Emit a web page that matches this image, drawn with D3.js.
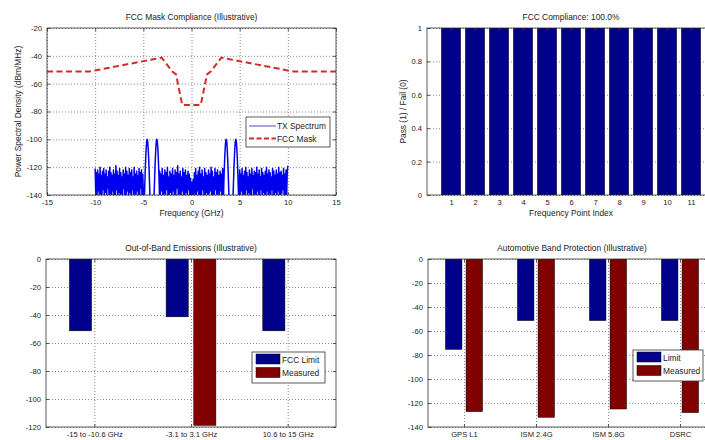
<!DOCTYPE html>
<html>
<head>
<meta charset="utf-8">
<script src="https://cdn.jsdelivr.net/npm/d3@7"></script>
<style>
body { margin: 0; background: #fff; }
svg { font-family: "Liberation Sans", Arial, sans-serif; }
.grid line { stroke: #8a8a8a; stroke-dasharray: 1,2; }
.grid path { display: none; }
.ax text { fill: #222; font-size: 7.6px; }
.lbl { fill: #222; font-size: 8.4px; }
</style>
</head>
<body>
<svg id="fig" width="705" height="440"></svg>
<script>
// ---- data ----
// FCC mask (symmetric, illustrative)
var maskFreq  = [-15, -10.6, -3.1, -1.99, -1.61, -0.96, 0.96, 1.61, 1.99, 3.1, 10.6, 15];
var maskLevel = [-51.3, -51.3, -41.3, -51.3, -53.3, -75.3, -75.3, -53.3, -51.3, -41.3, -51.3, -51.3];

// TX spectrum noise floor, three stretches (GHz spans and levels in dBm/MHz)
var noiseSpans = [[-10, -5.0], [-3.3, 3.3], [5.0, 10]];
var noiseLeft = [-121,-140,-124,-143,-122,-137,-125,-145,-120,-139,-126,-142,-123,-136,-121,-144,-125,-138,-122,-141,
  -127,-135,-123,-146,-120,-139,-124,-142,-126,-137,-122,-144,-125,-140,-119,-136,-123,-145,-126,-138,
  -121,-143,-124,-139,-127,-141,-122,-135,-125,-146,-120,-140,-123,-137,-126,-144,-121,-138,-124,-142,
  -122,-136,-127,-145,-120,-139,-125,-141,-123,-137,-126,-143,-121,-140,-124,-135,-122,-146,-125,-138];
var noiseMid = [-123,-141,-125,-137,-121,-144,-126,-139,-122,-142,-124,-136,-120,-145,-127,-140,-123,-138,-125,-143,
  -121,-137,-126,-146,-122,-140,-124,-135,-119,-143,-125,-139,-123,-144,-127,-137,-121,-141,-124,-146,
  -122,-138,-126,-142,-123,-136,-125,-145,-128,-141,-131,-146,-129,-143,-124,-139,-121,-144,-126,-137,
  -123,-142,-120,-140,-125,-145,-122,-136,-127,-141,-121,-143,-124,-138,-126,-146,-122,-139,-125,-137,
  -120,-144,-123,-140,-127,-142,-121,-136,-124,-145,-122,-139,-126,-141,-123,-137,-125,-143,-121,-140];
var noiseRight = [-122,-142,-125,-137,-121,-145,-126,-139,-123,-141,-120,-136,-124,-144,-127,-138,-122,-143,-125,-140,
  -121,-135,-126,-146,-123,-139,-124,-142,-120,-137,-125,-144,-122,-140,-127,-136,-121,-145,-124,-138,
  -126,-141,-123,-143,-120,-137,-125,-146,-122,-139,-124,-142,-127,-136,-121,-144,-123,-140,-126,-138,
  -122,-145,-125,-137,-120,-141,-124,-143,-123,-139,-126,-136,-121,-144,-125,-140,-122,-142,-124,-119];
// pulse peaks between the noise stretches [GHz, dBm/MHz]
var peakPoints = [[-4.95,-145],[-4.9,-143],[-4.85,-133],[-4.8,-122],[-4.75,-113],[-4.7,-106],[-4.65,-101.5],[-4.6,-100],
  [-4.55,-101.5],[-4.5,-106],[-4.45,-113],[-4.4,-122],[-4.35,-133],[-4.3,-143],[-4.1,-145],[-3.9,-143],[-3.85,-133],
  [-3.8,-122],[-3.75,-113],[-3.7,-106],[-3.65,-101.5],[-3.6,-100],[-3.55,-101.5],[-3.5,-106],[-3.45,-113],[-3.4,-122],
  [-3.35,-133],[-3.32,-143],
  [3.32,-143],[3.35,-133],[3.4,-122],[3.45,-113],[3.5,-106],[3.55,-101.5],[3.6,-100],[3.65,-101.5],[3.7,-106],
  [3.75,-113],[3.8,-122],[3.85,-133],[3.9,-143],[4.1,-145],[4.3,-143],[4.35,-133],[4.4,-122],[4.45,-113],[4.5,-106],
  [4.55,-101.5],[4.6,-100],[4.65,-101.5],[4.7,-106],[4.75,-113],[4.8,-122],[4.85,-133],[4.9,-143],[4.95,-145]];

var maskXTicks = [-15, -10, -5, 0, 5, 10, 15];
var maskYTicks = [-140, -120, -100, -80, -60, -40, -20];

// pass / fail
var passIndex = [1, 2, 3, 4, 5, 6, 7, 8, 9, 10, 11];
var passValue = [1, 1, 1, 1, 1, 1, 1, 1, 1, 1, 1];
var passYTicks = [0, 0.2, 0.4, 0.6, 0.8, 1];

// out-of-band
var oobBands = ["-15 to -10.6 GHz", "-3.1 to 3.1 GHz", "10.6 to 15 GHz"];
var oobLimit = [-51.3, -41.3, -51.3];
var oobMeasured = [null, -118.8, null];
var oobYTicks = [-120, -100, -80, -60, -40, -20, 0];

// automotive bands
var autoBands = ["GPS L1", "ISM 2.4G", "ISM 5.8G", "DSRC"];
var autoLimit = [-75.3, -51.3, -51.3, -51.3];
var autoMeasured = [-127.2, -131.9, -125, -128];
var autoYTicks = [-140, -120, -100, -80, -60, -40, -20, 0];

// ---- drawing ----
var navy = "#00008b", maroon = "#800000";
var svg = d3.select("#fig");

function makePanel(name, p, x, y, xTicks, yTicks) {
  var g = svg.append("g").attr("transform", "translate(" + p.x + "," + p.y + ")");
  g.append("clipPath").attr("id", "clip-" + name).append("rect").attr("width", p.w).attr("height", p.h);
  g.append("g").attr("class", "grid").call(d3.axisBottom(x).tickValues(xTicks).tickSize(p.h).tickFormat(""));
  g.append("g").attr("class", "grid").call(d3.axisLeft(y).tickValues(yTicks).tickSize(-p.w).tickFormat(""));
  var plot = g.append("g").attr("clip-path", "url(#clip-" + name + ")");
  return {g: g, plot: plot};
}

function finishPanel(g, p, x, y, xTicks, yTicks, xFmt) {
  g.append("rect").attr("width", p.w).attr("height", p.h).attr("fill", "none").attr("stroke", "#333").attr("stroke-width", 0.8);
  g.append("g").attr("class", "ax").attr("transform", "translate(0," + p.h + ")")
    .call(d3.axisBottom(x).tickValues(xTicks).tickSize(-3).tickPadding(5).tickFormat(xFmt));
  g.append("g").attr("class", "ax")
    .call(d3.axisLeft(y).tickValues(yTicks).tickSize(-3).tickPadding(5).tickFormat(function(d) { return String(d); }));
  g.append("g").attr("class", "ax").call(d3.axisTop(x).tickValues(xTicks).tickSize(-3).tickFormat(""));
  g.append("g").attr("class", "ax").attr("transform", "translate(" + p.w + ",0)")
    .call(d3.axisRight(y).tickValues(yTicks).tickSize(-3).tickFormat(""));
  g.selectAll(".ax .domain").remove();
  g.selectAll(".ax .tick line").attr("stroke", "#333").attr("stroke-width", 0.8);
}

function title(p, txt, dy) {
  svg.append("text").attr("class", "lbl").attr("x", p.x + p.w / 2).attr("y", p.y - dy)
    .attr("text-anchor", "middle").text(txt);
}

// ---- panel 1: mask ----
var p1 = {x: 47, y: 28, w: 289, h: 167};
var x1 = d3.scaleLinear().domain([-15, 15]).range([0, p1.w]);
var y1 = d3.scaleLinear().domain([-140, -20]).range([p1.h, 0]);
var a1 = makePanel("mask", p1, x1, y1, maskXTicks, maskYTicks);

var spectrum = [];
[noiseLeft, noiseMid, noiseRight].forEach(function(vals, k) {
  var s = noiseSpans[k];
  vals.forEach(function(v, i) { spectrum.push([s[0] + (s[1] - s[0]) * i / (vals.length - 1), v]); });
});
peakPoints.forEach(function(d) { spectrum.push(d); });
spectrum.sort(function(a, b) { return a[0] - b[0]; });

var line1 = d3.line().x(function(d) { return x1(d[0]); }).y(function(d) { return y1(d[1]); });
a1.plot.append("path").attr("d", line1(spectrum)).attr("fill", "none").attr("stroke", "#0000ee")
  .attr("stroke-width", 1.5).attr("stroke-linejoin", "round");
a1.plot.append("path").attr("d", line1(maskFreq.map(function(f, i) { return [f, maskLevel[i]]; })))
  .attr("fill", "none").attr("stroke", "#d42a2a").attr("stroke-width", 2).attr("stroke-dasharray", "6,3.5");
finishPanel(a1.g, p1, x1, y1, maskXTicks, maskYTicks, function(d) { return String(d); });
title(p1, "FCC Mask Compliance (Illustrative)", 8);
svg.append("text").attr("class", "lbl").attr("x", p1.x + p1.w / 2).attr("y", p1.y + p1.h + 21)
  .attr("text-anchor", "middle").text("Frequency (GHz)");
svg.append("text").attr("class", "lbl").attr("transform", "translate(21," + (p1.y + p1.h / 2) + ") rotate(-90)")
  .attr("text-anchor", "middle").text("Power Spectral Density (dBm/MHz)");

var lg1 = a1.g.append("g").attr("transform", "translate(199,89)");
lg1.append("rect").attr("width", 84).attr("height", 30).attr("fill", "#fff").attr("stroke", "#333").attr("stroke-width", 0.8);
lg1.append("line").attr("x1", 3).attr("x2", 30).attr("y1", 9).attr("y2", 9).attr("stroke", "#5050c8").attr("stroke-width", 1);
lg1.append("line").attr("x1", 3).attr("x2", 30).attr("y1", 21.5).attr("y2", 21.5).attr("stroke", "#d42a2a")
  .attr("stroke-width", 2).attr("stroke-dasharray", "5,2.5");
lg1.append("text").attr("class", "lbl").attr("x", 31).attr("y", 12).text("TX Spectrum");
lg1.append("text").attr("class", "lbl").attr("x", 31).attr("y", 24.5).text("FCC Mask");

// ---- panel 2: pass/fail ----
var p2 = {x: 427, y: 28, w: 288, h: 167};
var x2 = d3.scaleLinear().domain([0, 12]).range([0, p2.w]);
var y2 = d3.scaleLinear().domain([0, 1]).range([p2.h, 0]);
var a2 = makePanel("pass", p2, x2, y2, passIndex, passYTicks);
a2.plot.selectAll("rect.bar").data(passIndex).enter().append("rect").attr("class", "bar")
  .attr("x", function(d) { return x2(d - 0.4); })
  .attr("width", x2(0.8) - x2(0))
  .attr("y", function(d, i) { return y2(passValue[i]); })
  .attr("height", function(d, i) { return y2(0) - y2(passValue[i]); })
  .attr("fill", navy).attr("stroke", "#000").attr("stroke-width", 0.5);
finishPanel(a2.g, p2, x2, y2, passIndex, passYTicks, function(d) { return String(d); });
title(p2, "FCC Compliance: 100.0%", 8);
svg.append("text").attr("class", "lbl").attr("x", p2.x + p2.w / 2).attr("y", p2.y + p2.h + 21)
  .attr("text-anchor", "middle").text("Frequency Point Index");
svg.append("text").attr("class", "lbl").attr("transform", "translate(406," + (p2.y + p2.h / 2) + ") rotate(-90)")
  .attr("text-anchor", "middle").text("Pass (1) / Fail (0)");

// grouped bar helper
function groupedBars(plot, x, y, limit, measured) {
  var off = 0.143, bw = 0.229;
  var rows = [];
  limit.forEach(function(v, i) { rows.push({i: i + 1, v: v, s: 0}); });
  measured.forEach(function(v, i) { if (v !== null) rows.push({i: i + 1, v: v, s: 1}); });
  plot.selectAll("rect.bar").data(rows).enter().append("rect").attr("class", "bar")
    .attr("x", function(d) { return x(d.i + (d.s ? off : -off) - bw / 2); })
    .attr("width", x(bw) - x(0))
    .attr("y", y(0))
    .attr("height", function(d) { return y(d.v) - y(0); })
    .attr("fill", function(d) { return d.s ? maroon : navy; })
    .attr("stroke", "#000").attr("stroke-width", 0.5);
}

function barLegend(g, tx, ty, w, labels) {
  var lg = g.append("g").attr("transform", "translate(" + tx + "," + ty + ")");
  lg.append("rect").attr("width", w).attr("height", 31).attr("fill", "#fff").attr("stroke", "#333").attr("stroke-width", 0.8);
  [navy, maroon].forEach(function(c, k) {
    lg.append("rect").attr("x", 4).attr("y", 2 + k * 13.5).attr("width", 24).attr("height", 10)
      .attr("fill", c).attr("stroke", "#000").attr("stroke-width", 0.5);
    lg.append("text").attr("class", "lbl").attr("x", 30).attr("y", 10.5 + k * 13.5).text(labels[k]);
  });
}

// ---- panel 3: out-of-band ----
var p3 = {x: 46, y: 259, w: 290, h: 168};
var x3 = d3.scaleLinear().domain([0.5, 3.5]).range([0, p3.w]);
var y3 = d3.scaleLinear().domain([-120, 0]).range([p3.h, 0]);
var a3 = makePanel("oob", p3, x3, y3, [1, 2, 3], oobYTicks);
groupedBars(a3.plot, x3, y3, oobLimit, oobMeasured);
finishPanel(a3.g, p3, x3, y3, [1, 2, 3], oobYTicks, function(d) { return oobBands[d - 1]; });
title(p3, "Out-of-Band Emissions (Illustrative)", 8);
barLegend(a3.g, 206, 93, 73, ["FCC Limit", "Measured"]);

// ---- panel 4: automotive ----
var p4 = {x: 428, y: 259, w: 288, h: 168};
var x4 = d3.scaleLinear().domain([0.5, 4.5]).range([0, p4.w]);
var y4 = d3.scaleLinear().domain([-140, 0]).range([p4.h, 0]);
var a4 = makePanel("auto", p4, x4, y4, [1, 2, 3, 4], autoYTicks);
groupedBars(a4.plot, x4, y4, autoLimit, autoMeasured);
finishPanel(a4.g, p4, x4, y4, [1, 2, 3, 4], autoYTicks, function(d) { return autoBands[d - 1]; });
title(p4, "Automotive Band Protection (Illustrative)", 8);
barLegend(a4.g, 205, 91, 70, ["Limit", "Measured"]);
</script>
</body>
</html>
